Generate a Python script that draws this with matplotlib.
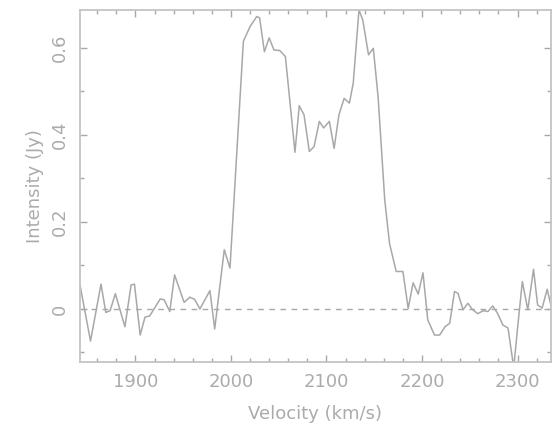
import matplotlib
matplotlib.use("Agg")
import matplotlib.pyplot as plt
from matplotlib.ticker import MultipleLocator

# HI spectrum
velocity = [1842, 1853, 1864, 1869, 1873.5, 1879, 1889, 1895.5, 1899, 1905,
            1910, 1915, 1926, 1930, 1936, 1941, 1951, 1957, 1962, 1967.5,
            1978, 1983, 1993, 1999, 2013, 2020, 2027, 2030, 2035, 2040,
            2045, 2051, 2057, 2067, 2071.5, 2076.5, 2082, 2087, 2092.5, 2097,
            2103, 2108, 2113, 2118.5, 2124, 2128, 2134, 2138, 2144, 2149,
            2154, 2161, 2166, 2173, 2180, 2185.5, 2190.7, 2196, 2201, 2206,
            2213, 2218.5, 2224, 2229, 2234, 2237.6, 2243, 2248, 2253, 2258.5,
            2264, 2269, 2274, 2279, 2284.6, 2290, 2296, 2300, 2305, 2310.7,
            2316.7, 2321, 2325.7, 2331, 2336]
intensity = [0.055, -0.074, 0.057, -0.008, -0.004, 0.035, -0.041, 0.055, 0.057, -0.060,
             -0.019, -0.016, 0.023, 0.021, -0.006, 0.078, 0.015, 0.027, 0.022, 0.000,
             0.042, -0.046, 0.136, 0.094, 0.615, 0.649, 0.672, 0.669, 0.591, 0.623,
             0.595, 0.594, 0.580, 0.360, 0.467, 0.446, 0.362, 0.373, 0.431, 0.416,
             0.431, 0.369, 0.446, 0.484, 0.473, 0.519, 0.687, 0.664, 0.584, 0.599,
             0.488, 0.250, 0.150, 0.086, 0.086, 0.001, 0.060, 0.034, 0.083, -0.025,
             -0.060, -0.060, -0.041, -0.033, 0.040, 0.036, -0.002, 0.013, -0.002, -0.011,
             -0.004, -0.006, 0.007, -0.010, -0.037, -0.044, -0.135, -0.044, 0.063, -0.002,
             0.091, 0.009, 0.002, 0.045, -0.002]

GREY = "#a8a8a8"
TEXT = "#ababab"

fig = plt.figure(figsize=(5.56, 4.32), dpi=100)
ax = fig.add_axes([80 / 556, 1 - 362 / 432, 471 / 556, 352 / 432])

ax.plot(velocity, intensity, color=GREY, lw=1.1)
ax.axhline(0, color=GREY, lw=1.0, ls=(0, (4, 4)))

ax.set_xlim(1842, 2335)
ax.set_ylim(-0.122, 0.687)

ax.xaxis.set_major_locator(MultipleLocator(100))
ax.xaxis.set_minor_locator(MultipleLocator(20))
ax.yaxis.set_major_locator(MultipleLocator(0.2))
ax.yaxis.set_minor_locator(MultipleLocator(0.1))
ax.set_yticks([0, 0.2, 0.4, 0.6])
ax.set_yticklabels(["0", "0.2", "0.4", "0.6"], rotation=90, va="center")

ax.tick_params(which="both", direction="in", top=True, right=True,
               color=GREY, labelcolor=TEXT, labelsize=13)
ax.tick_params(which="major", length=5, width=1, pad=8)
ax.tick_params(which="minor", length=3, width=1)

for sp in ax.spines.values():
    sp.set_color("#c4c4c4")
    sp.set_linewidth(1.3)

ax.set_xlabel("Velocity (km/s)", color=TEXT, fontsize=13, labelpad=10)
ax.set_ylabel("Intensity (Jy)", color=TEXT, fontsize=13, labelpad=5)

fig.savefig("out.png", dpi=100)
